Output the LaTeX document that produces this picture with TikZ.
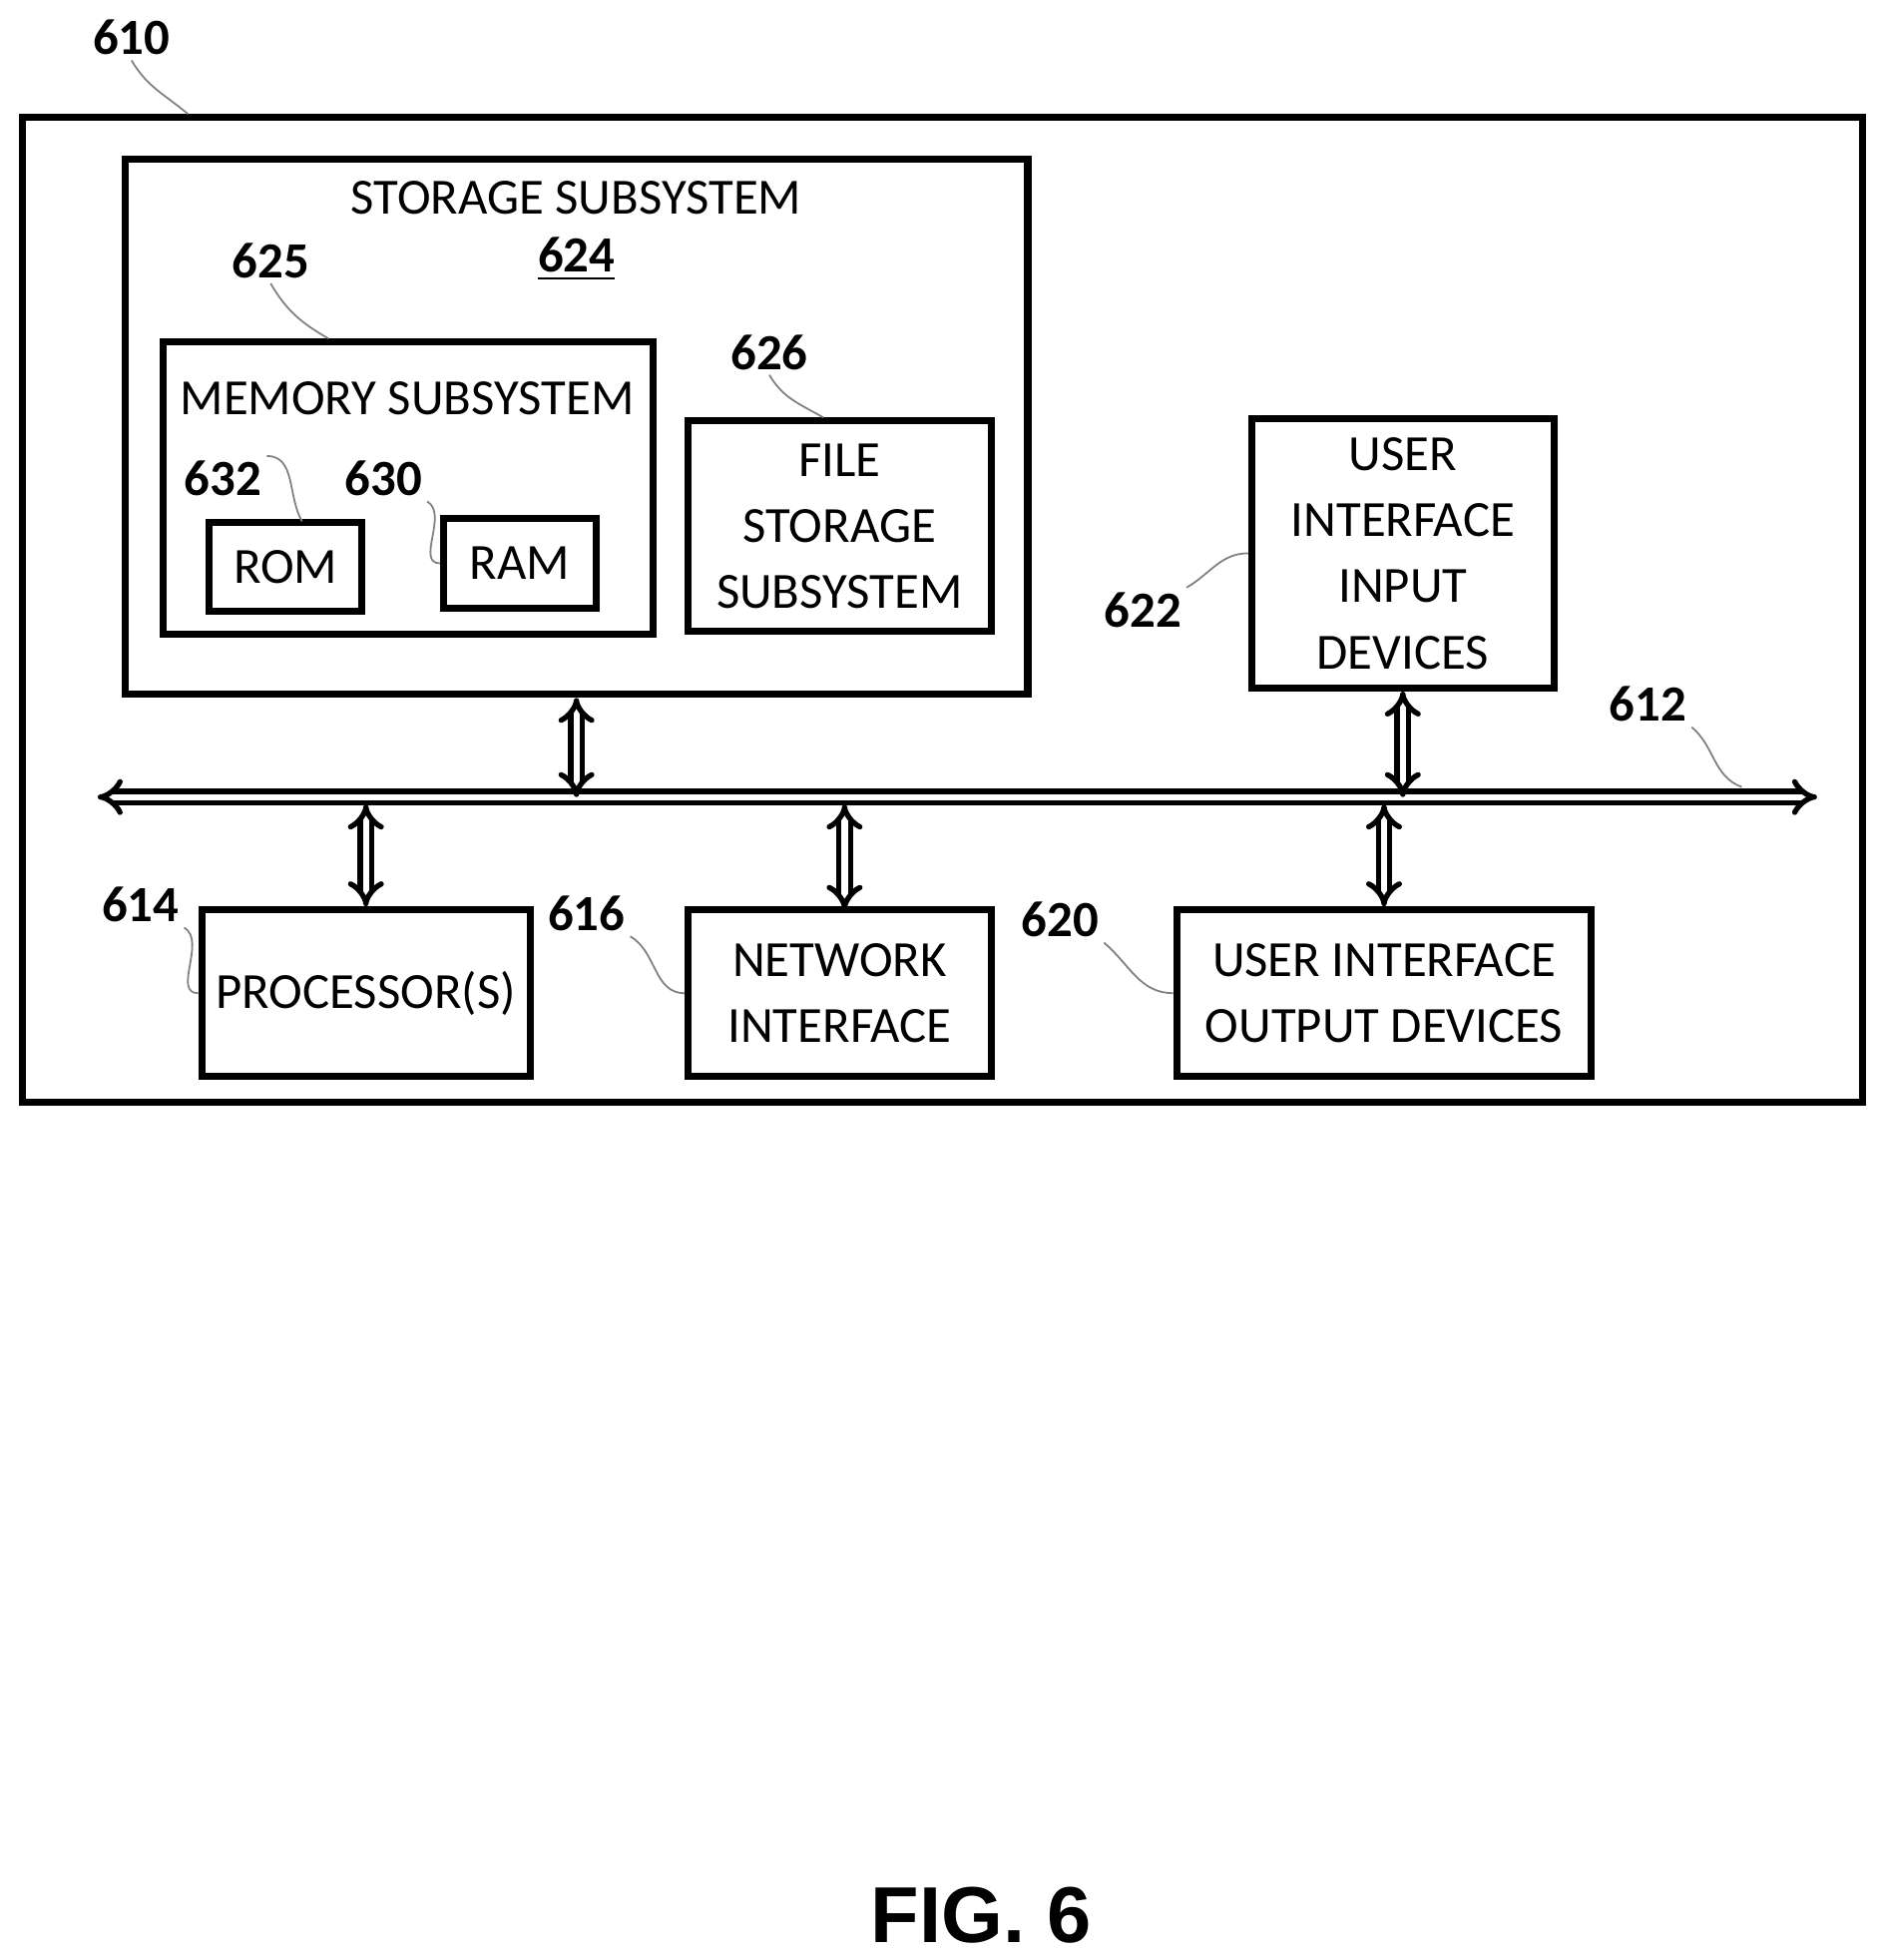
\documentclass[tikz,border=0pt]{standalone}
\usepackage{fontspec}
\setmainfont{Carlito}
\newfontfamily\figfont{Liberation Sans}
\usetikzlibrary{arrows.meta,positioning}

\begin{document}
\begin{tikzpicture}[
    x=0.01cm, y=-0.01cm,
    blk/.style={rectangle, draw, line width=1.6pt, align=center, font=\fontsize{11.5}{15}\selectfont, inner sep=0pt},
    num/.style={font=\fontsize{11.5}{14}\selectfont\bfseries, inner sep=1pt},
    leader/.style={draw=gray, line width=0.4pt},
    bus/.style={double, double distance=0.05cm, line width=1.2pt, {Implies[length=0.12cm]}-{Implies[length=0.12cm]}}
]
    \useasboundingbox (0,0) rectangle (1500,1564);
    % frame and boxes
    \node[blk, minimum width=14.68cm, minimum height=7.85cm] (sys) at (752,486.5) {};
    \node[blk, minimum width=7.2cm, minimum height=4.27cm] (storage) at (460,340.5) {};
    \node[font=\fontsize{11.5}{14}\selectfont] (storagetxt) at (460,158) {STORAGE SUBSYSTEM};
    \node[num] (n624) at (460,207) {\underline{624}};
    \node[blk, minimum width=3.91cm, minimum height=2.33cm] (memory) at (325.5,389.5) {};
    \node[font=\fontsize{11.5}{14}\selectfont] (memorytxt) at (325,318) {MEMORY SUBSYSTEM};
    \node[blk, minimum width=1.22cm, minimum height=0.71cm] (rom) at (228,452.5) {ROM};
    \node[blk, minimum width=1.22cm, minimum height=0.71cm] (ram) at (415,449.5) {RAM};
    \node[blk, minimum width=2.42cm, minimum height=1.68cm] (file) at (670,420) {FILE\\STORAGE\\SUBSYSTEM};
    \node[blk, minimum width=2.41cm, minimum height=2.15cm] (uiin) at (1119.5,441.5) {USER\\INTERFACE\\INPUT\\DEVICES};
    \node[blk, minimum width=2.62cm, minimum height=1.33cm] (proc) at (292,792.5) {PROCESSOR(S)};
    \node[blk, minimum width=2.42cm, minimum height=1.33cm] (net) at (670,792.5) {NETWORK\\INTERFACE};
    \node[blk, minimum width=3.31cm, minimum height=1.33cm] (uiout) at (1104.5,792.5) {USER INTERFACE\\OUTPUT DEVICES};

    % bus
    \coordinate (busl) at (78,636);
    \coordinate (busr) at (1450,636);
    \draw[bus] (busl) -- (busr);
    \draw[bus] (storage.south) -- (storage.south |- busl);
    \draw[bus] (uiin.south) -- (uiin.south |- busl);
    \draw[bus] (proc.north |- 0,642) -- (proc.north);
    \draw[bus] (674,642) -- (674,726);
    \draw[bus] (uiout.north |- 0,642) -- (uiout.north);

    % reference numerals
    \node[num] (n610) at (105,30) {610};
    \node[num] (n625) at (216,208) {625};
    \node[num] (n632) at (178,382) {632};
    \node[num] (n630) at (306,382) {630};
    \node[num] (n626) at (614,281) {626};
    \node[num] (n622) at (912,487) {622};
    \node[num] (n612) at (1315,562) {612};
    \node[num] (n614) at (112,722) {614};
    \node[num] (n616) at (468,729) {616};
    \node[num] (n620) at (846,734) {620};
    \draw[leader] (n610.south) to[out=-60,in=140] (sys.north west -| 150,0);
    \draw[leader] (n625.south) to[out=-60,in=150] (memory.north west -| 262,0);
    \draw[leader] (n632.north east) to[out=0,in=120] (241,416);
    \draw[leader] (n630.south east) to[out=-30,in=180] (ram.west);
    \draw[leader] (n626.south) to[out=-60,in=150] (file.north west -| 657,0);
    \draw[leader] (n622.north east) to[out=30,in=180] (uiin.west);
    \draw[leader] (n612.south east) to[out=-40,in=160] (1390,628);
    \draw[leader] (n614.south east) to[out=-30,in=180] (proc.west);
    \draw[leader] (n616.south east) to[out=-30,in=180] (net.west);
    \draw[leader] (n620.south east) to[out=-40,in=180] (uiout.west);

    \node[font=\figfont\bfseries\fontsize{18}{20}\selectfont] (fig) at (783,1528) {FIG. 6};
\end{tikzpicture}
\end{document}
